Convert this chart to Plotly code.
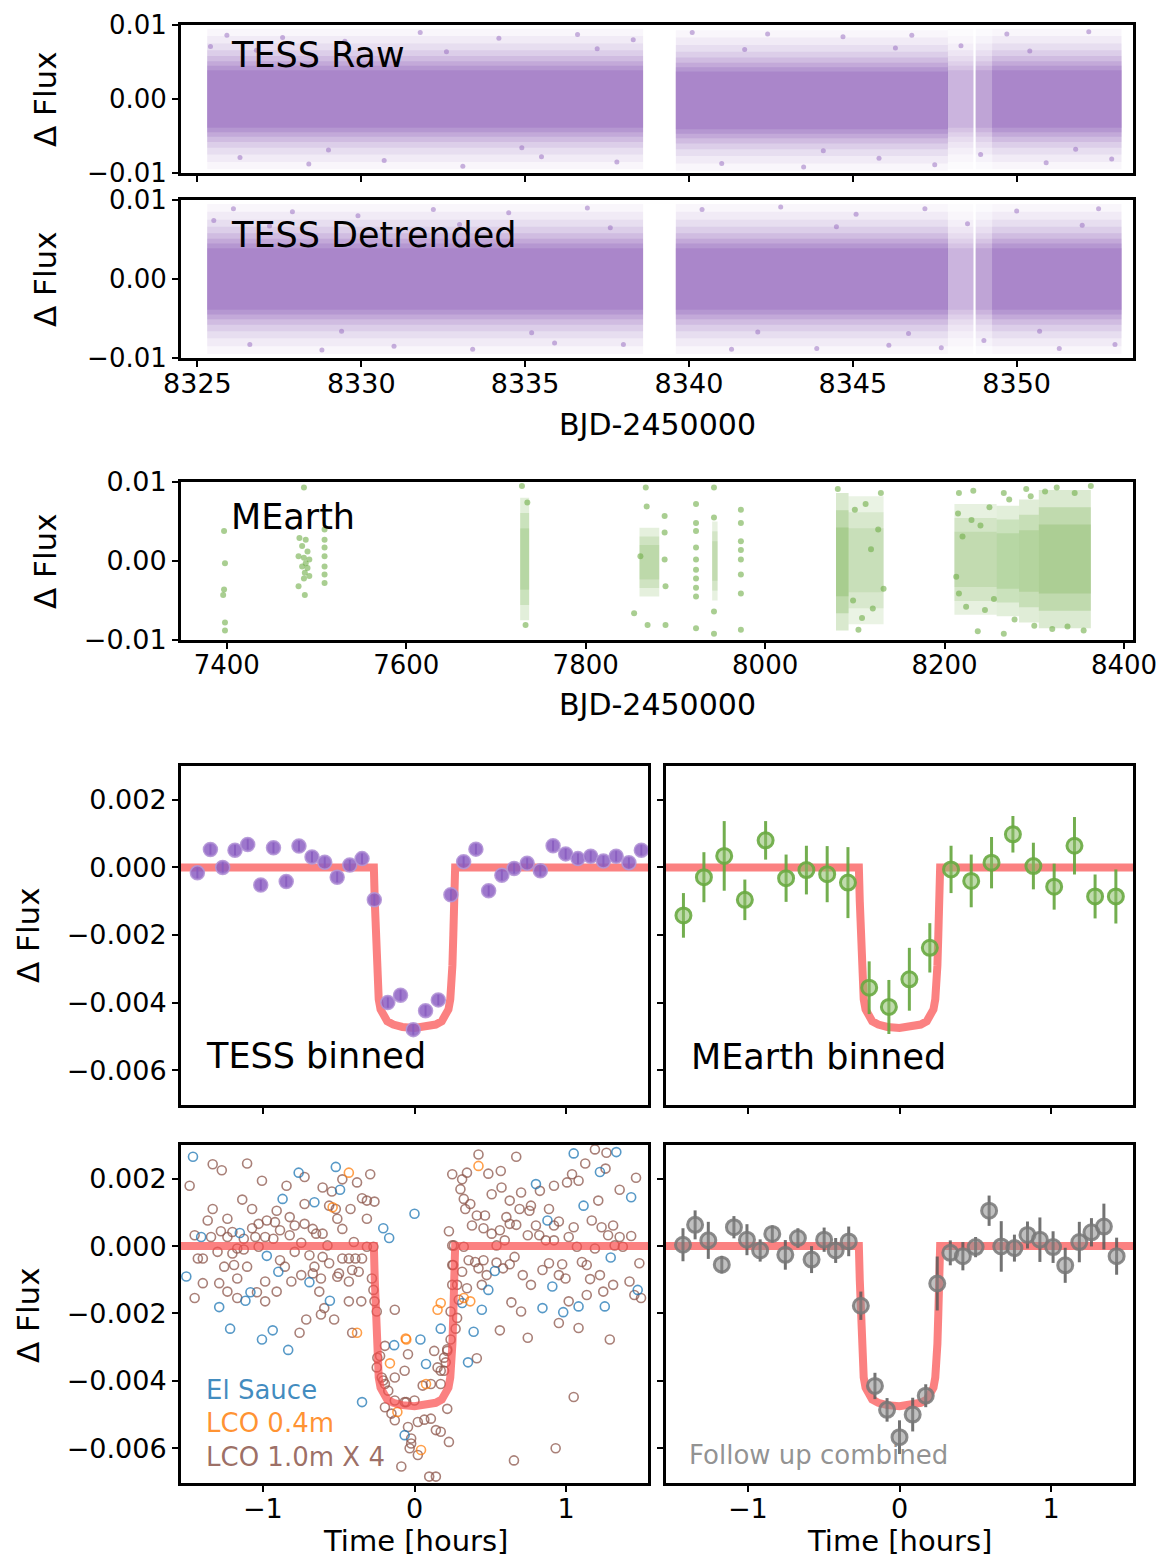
import plotly.graph_objects as go

# reference canvas is 1166x1568; the page body adds an 8px margin, so the
# figure is drawn 16px smaller and every reference pixel position is shifted by 8
REF_W, REF_H = 1166, 1568
OFF = 8
W, H = REF_W - 2 * OFF, REF_H - 2 * OFF
FONT = "DejaVu Sans"

# ============================ DATA ============================
# --- TESS light curve (dense clouds summarised as bands + sparse fringe points)
tess_x_range = [8324.5, 8353.55]
tess_xticks = [8325, 8330, 8335, 8340, 8345, 8350]
tess_xtick_text = ["8325", "8330", "8335", "8340", "8345", "8350"]
tess_yticks = [0.01, 0.0, -0.01]
tess_ytick_text = ["0.01", "0.00", "\u22120.01"]

tess_seg_start = [8325.3, 8339.6, 8347.9, 8348.75, 8349.25]
tess_seg_end = [8338.6, 8347.9, 8348.68, 8349.25, 8353.2]
tess_seg_weight = [1.0, 1.0, 0.45, 0.6, 1.0]
tess_raw_center = [0.0, -0.0002, 0.0, 0.0, 0.0]
tess_det_center = [0.0, 0.0, 0.0, 0.0, 0.0]
tess_level_half = [0.0095, 0.0085, 0.0075, 0.0066, 0.0058, 0.0051, 0.0045, 0.0039]
tess_level_alpha = [0.06, 0.07, 0.10, 0.13, 0.17, 0.22, 0.28, 0.35]

tess_raw_fringe = [(8325.4, 0.0071), (8325.9, 0.0086), (8326.3, -0.0079), (8327.6, 0.0083),
                   (8328.4, -0.0088), (8329.5, 0.0078), (8330.7, -0.0083), (8331.8, 0.0090),
                   (8333.1, -0.0091), (8334.2, 0.0082), (8335.5, -0.0078), (8336.6, 0.0087),
                   (8337.8, -0.0085), (8338.3, 0.0080), (8340.1, 0.0090), (8341.0, -0.0087),
                   (8342.4, 0.0088), (8343.5, -0.0092), (8344.7, 0.0084), (8345.8, -0.0080),
                   (8346.8, 0.0086), (8347.5, -0.0089), (8348.3, 0.0072), (8348.9, -0.0075),
                   (8349.7, 0.0088), (8350.9, -0.0086), (8352.2, 0.0091), (8352.9, -0.0081),
                   (8326.8, 0.0066), (8329.0, -0.0069), (8332.6, 0.0064), (8334.9, -0.0066),
                   (8337.2, 0.0068), (8341.7, 0.0067), (8344.1, -0.0070), (8346.3, 0.0069),
                   (8350.4, 0.0065), (8351.8, -0.0068)]
tess_det_fringe = [(8325.5, 0.0074), (8326.1, 0.0089), (8326.6, -0.0083), (8327.9, 0.0085),
                   (8328.8, -0.0090), (8329.9, 0.0080), (8331.0, -0.0085), (8332.2, 0.0088),
                   (8333.4, -0.0089), (8334.5, 0.0084), (8335.9, -0.0081), (8336.9, 0.0090),
                   (8338.0, -0.0083), (8340.4, 0.0088), (8341.3, -0.0089), (8342.8, 0.0091),
                   (8343.9, -0.0088), (8345.1, 0.0082), (8346.1, -0.0084), (8347.2, 0.0089),
                   (8347.7, -0.0087), (8348.5, 0.0070), (8349.0, -0.0078), (8350.0, 0.0086),
                   (8351.3, -0.0088), (8352.5, 0.0089), (8353.0, -0.0083),
                   (8327.2, 0.0067), (8329.4, -0.0066), (8333.0, 0.0069), (8335.2, -0.0068),
                   (8337.6, 0.0065), (8342.1, -0.0067), (8344.5, 0.0066), (8346.7, -0.0069),
                   (8350.7, -0.0066), (8352.0, 0.0068)]

# --- MEarth light curve
me_x_range = [7349, 8410]
me_xticks = [7400, 7600, 7800, 8000, 8200, 8400]
me_xtick_text = ["7400", "7600", "7800", "8000", "8200", "8400"]
me_blk_x0 = [7727, 7860, 7941, 8079, 8093, 8211, 8258, 8283, 8305]
me_blk_x1 = [7737, 7882, 7947, 8093, 8132, 8258, 8283, 8305, 8363]
me_blk_y0 = [-0.0075, -0.0045, -0.0050, -0.0088, -0.0080, -0.0068, -0.0070, -0.0078, -0.0085]
me_blk_y1 = [0.0080, 0.0042, 0.0050, 0.0086, 0.0082, 0.0072, 0.0070, 0.0078, 0.0090]
me_blk_alpha = [0.60, 0.55, 0.50, 0.80, 0.45, 0.50, 0.60, 0.65, 0.75]
me_level_frac = [1.0, 0.75, 0.5]
me_points = [(7397, 0.0038), (7398, -0.0003), (7397, -0.0036), (7396, -0.0043), (7398, -0.0078),
             (7398, -0.0088), (7486, 0.0093), (7481, 0.0029), (7488, 0.0027), (7484, 0.0019),
             (7490, 0.0012), (7480, 0.0006), (7486, 0.0004), (7492, 0.0002), (7488, -0.0003),
             (7484, -0.0007), (7490, -0.0009), (7487, -0.0015), (7492, -0.0019), (7486, -0.0022),
             (7480, -0.0032), (7487, -0.0043), (7509, 0.0040), (7509, 0.0027), (7509, 0.0017),
             (7509, 0.0006), (7509, -0.0007), (7509, -0.0017), (7509, -0.0028),
             (7729, 0.0095), (7733, -0.0081), (7735, 0.0074),
             (7867, 0.0093), (7868, 0.0069), (7854, -0.0066), (7869, -0.0081), (7888, 0.0057),
             (7888, 0.0036), (7888, 0.0002), (7889, -0.0032), (7889, -0.0081), (7861, 0.0006),
             (7923, 0.0072), (7923, 0.0048), (7923, 0.0038), (7923, 0.0017), (7923, 0.0002),
             (7923, -0.0011), (7923, -0.0022), (7923, -0.0034), (7923, -0.0045), (7923, -0.0085),
             (7943, 0.0093), (7943, 0.0055), (7943, -0.0064), (7943, -0.0092),
             (7973, 0.0065), (7973, 0.0048), (7973, 0.0025), (7973, 0.0014), (7973, 0.0002),
             (7973, -0.0017), (7973, -0.0041), (7973, -0.0087),
             (8081, 0.0091), (8129, 0.0086), (8104, -0.0087), (8216, 0.0086), (8232, 0.0089),
             (8266, 0.0086), (8291, 0.0091), (8325, 0.0093), (8363, 0.0095), (8237, -0.0089),
             (8266, -0.0092), (8337, -0.0083), (8216, -0.0041), (8220, 0.0031),
             (8100, 0.0065), (8112, 0.0072), (8120, -0.0060), (8126, 0.0040), (8108, -0.0072),
             (8132, -0.0035), (8098, -0.0050), (8118, 0.0015), (8215, 0.0060), (8224, -0.0058),
             (8230, 0.0052), (8245, -0.0062), (8250, 0.0068), (8240, 0.0045), (8213, -0.0020),
             (8255, -0.0048), (8272, 0.0078), (8278, -0.0074), (8296, 0.0082), (8300, -0.0082),
             (8312, 0.0088), (8345, 0.0086), (8355, -0.0088), (8320, -0.0086)]

# --- Binned / phase-folded panels (time in hours, flux)
hr_ticks = [-1, 0, 1]
hr_tick_text = ["\u22121", "0", "1"]
bin_yticks = [0.002, 0.0, -0.002, -0.004, -0.006]
bin_ytick_text = ["0.002", "0.000", "\u22120.002", "\u22120.004", "\u22120.006"]

model_t = [-1.6, -0.268, -0.262, -0.256, -0.250, -0.244, -0.236, -0.224, -0.205, -0.180, -0.140,
           -0.080, 0.0, 0.080, 0.140, 0.180, 0.205, 0.224, 0.236, 0.244, 0.250, 0.256, 0.262,
           0.268, 1.6]
model_f = [0.0, 0.0, -0.0010, -0.0020, -0.0029, -0.0035, -0.0039, -0.0042, -0.0044, -0.00455,
           -0.00465, -0.00472, -0.00475, -0.00472, -0.00465, -0.00455, -0.0044, -0.0042, -0.0039,
           -0.0035, -0.0029, -0.0020, -0.0010, 0.0, 0.0]

tess_bin_t = [-1.432, -1.346, -1.265, -1.184, -1.100, -1.014, -0.930, -0.846, -0.762, -0.676,
              -0.592, -0.510, -0.427, -0.346, -0.265, -0.176, -0.092, -0.008, 0.073, 0.157,
              0.240, 0.324, 0.405, 0.489, 0.576, 0.657, 0.743, 0.830, 0.914, 0.997,
              1.078, 1.162, 1.246, 1.330, 1.414, 1.496]
tess_bin_f = [-0.00016, 0.00053, 0.0, 0.00051, 0.00068, -0.00052, 0.00058, -0.00042, 0.00063, 0.00031,
              0.00015, -0.00029, 0.00007, 0.00026, -0.00096, -0.0040, -0.00378, -0.0048, -0.00424, -0.00392,
              -0.00081, 0.00017, 0.00054, -0.00069, -0.00023, -0.00003, 0.00012, -0.0001, 0.00064, 0.0004,
              0.00026, 0.00033, 0.00019, 0.00033, 0.00014, 0.00051]
tess_bin_err = [0.00015] * 36

me_bin_t = [-1.425, -1.290, -1.156, -1.020, -0.883, -0.748, -0.614, -0.477, -0.340, -0.200, -0.070,
            0.065, 0.200, 0.340, 0.473, 0.607, 0.748, 0.883, 1.020, 1.154, 1.290, 1.427]
me_bin_f = [-0.00142, -0.00029, 0.00034, -0.00096, 0.0008, -0.00032, -0.00008, -0.0002, -0.00045,
            -0.00356, -0.00413, -0.00331, -0.00238, -0.00006, -0.0004, 0.00014, 0.00098, 0.00004,
            -0.00057, 0.00064, -0.00086, -0.00086]
me_bin_err = [0.00066, 0.00074, 0.00103, 0.0006, 0.00057, 0.0007, 0.00072, 0.00083, 0.00105,
              0.00078, 0.0008, 0.00093, 0.00073, 0.0007, 0.00078, 0.00076, 0.00054, 0.00069,
              0.00068, 0.00085, 0.00065, 0.0008]

fu_t = [-1.428, -1.348, -1.261, -1.172, -1.092, -1.006, -0.919, -0.839, -0.753, -0.670, -0.580,
        -0.497, -0.421, -0.335, -0.255, -0.162, -0.082, 0.0, 0.087, 0.173, 0.249, 0.335, 0.418,
        0.502, 0.591, 0.671, 0.758, 0.844, 0.926, 1.013, 1.093, 1.186, 1.266, 1.348, 1.432]
fu_f = [0.00004, 0.00063, 0.00017, -0.00055, 0.00056, 0.00019, -0.00013, 0.00036, -0.00026, 0.00024,
        -0.0004, 0.00019, -0.00013, 0.00014, -0.00177, -0.00415, -0.00486, -0.00567, -0.005, -0.00444,
        -0.00111, -0.0002, -0.0003, -0.00003, 0.00105, -0.00001, -0.00006, 0.00033, 0.00019, -0.00003,
        -0.00057, 0.00012, 0.00041, 0.00058, -0.0003]
fu_err = [0.00049, 0.00043, 0.00055, 0.00026, 0.00033, 0.00046, 0.00033, 0.00025, 0.00044, 0.00029,
          0.0004, 0.00036, 0.00037, 0.00044, 0.00042, 0.00039, 0.00035, 0.0005, 0.0005, 0.00034,
          0.0008, 0.00037, 0.00042, 0.0003, 0.00045, 0.00075, 0.0004, 0.0004, 0.00066, 0.00047,
          0.00052, 0.0006, 0.00042, 0.00068, 0.00055]

# ground-based photometry (time [h], flux [ppt])
elsauce_t = [-1.461, -0.764, -0.519, -0.491, -0.870, -0.660, -1.152, -0.206, -0.167, -1.407,
             -0.974, -0.898, -0.693, -1.082, -1.115, -0.558, -1.288, -1.216, -0.935, -1.006,
             -0.833, -0.134, -0.346, -0.065, -1.505,
             1.050, 1.331, 0.801, 1.429, 1.115, 0.0, 0.877, 1.294, 0.530, 0.487,
             1.472, 0.909, 0.444, 0.844, 0.981, 1.082, 1.255, 0.390, 0.314, 0.173,
             0.039, 0.353, 0.076, 1.223]
elsauce_ppt = [2.65, 2.18, 2.35, 1.67, 1.40, 1.30, 0.39, 0.53, 0.24, 0.27,
               -0.29, -0.76, -1.07, -1.37, -1.62, -1.62, -1.81, -2.45, -2.50, -2.77,
               -3.08, -2.94, -4.63, -5.61, -0.90,
               2.75, 2.79, 1.84, 1.45, 1.20, 0.96, 0.76, -0.34, -0.74, -1.30,
               -1.30, -1.20, -1.89, -1.84, -1.96, -1.79, -1.79, -2.54, -1.69, -2.45,
               -2.77, -3.45, -3.50, 2.20]
lco04_t = [-0.433, -0.379, -0.058, -0.162, -0.113, -0.540, 0.422, 0.152, 0.173, 0.325, 0.368,
           -0.054, 0.076, 0.043]
lco04_ppt = [2.18, -2.57, -2.74, -3.48, -4.92, 1.15, 2.38, -1.89, -1.69, -1.54, -1.64,
             -2.77, -4.09, -6.05]
lco1m_points = [
    (-1.331, 2.43), (-1.271, 2.25), (-1.104, 2.45), (-0.725, 2.05), (-0.476, 1.98), (-0.292, 2.13),
    (-1.006, 1.94), (-1.483, 1.79), (-0.844, 1.79), (-0.606, 1.74), (-0.545, 1.62), (-0.379, 1.89),
    (-1.136, 1.38), (-1.331, 1.10), (-1.071, 1.10), (-0.725, 1.25), (-0.563, 1.20), (-0.519, 1.10),
    (-0.422, 1.10), (-0.346, 1.42), (-0.314, 1.35), (-0.264, 1.32), (-0.509, 0.81), (-0.314, 0.81),
    (-1.364, 0.76), (-1.234, 0.81), (-0.974, 0.76), (-0.909, 1.05), (-0.823, 0.86), (-0.790, 0.61),
    (-0.725, 0.66), (-0.671, 0.51), (-1.028, 0.66), (-0.920, 0.71), (-1.071, 0.53), (-1.277, 0.44),
    (-1.201, 0.42), (-0.887, 0.47), (-0.606, 0.37), (-0.476, 0.51), (-0.649, 0.37), (-1.450, 0.32),
    (-1.342, 0.27), (-1.234, 0.27), (-1.126, 0.22), (-1.050, 0.27), (-0.985, 0.27), (-0.931, 0.22),
    (-0.823, 0.32), (-0.747, 0.10), (-0.574, 0.02), (-0.400, 0.12), (-0.314, -0.02), (-0.271, -0.02),
    (-1.028, -0.02), (-1.126, -0.10), (-1.169, -0.07), (-1.429, -0.37), (-1.396, -0.37), (-1.299, -0.17),
    (-1.201, -0.22), (-0.790, -0.17), (-0.693, -0.27), (-0.606, -0.32), (-0.476, -0.37), (-0.433, -0.37),
    (-0.390, -0.37), (-0.346, -0.37), (-1.255, -0.61), (-1.190, -0.56), (-1.104, -0.61), (-0.887, -0.42),
    (-0.855, -0.61), (-0.660, -0.61), (-0.563, -0.51), (-0.498, -0.81), (-0.411, -0.71), (-0.368, -0.76),
    (-0.747, -0.86), (-0.671, -0.81), (-0.617, -0.96), (-0.433, -1.05), (-1.396, -1.10), (-1.288, -1.10),
    (-1.169, -0.96), (-0.985, -1.05), (-0.812, -1.05), (-0.628, -1.35), (-0.509, -0.91), (-1.450, -1.54),
    (-1.234, -1.35), (-1.039, -1.37), (-0.909, -1.35), (-1.169, -1.54), (-0.985, -1.64), (-0.433, -1.64),
    (-0.351, -1.64), (-0.595, -1.84), (-0.530, -2.18), (-0.714, -2.18), (-0.617, -2.03), (-0.130, -1.89),
    (-0.411, -2.57), (-0.758, -2.57), (-0.195, -2.96), (-0.043, -3.21), (-0.227, -3.26), (-0.249, -3.60),
    (-0.065, -3.70), (-0.206, -3.99), (-0.130, -3.90), (-0.195, -4.09), (-0.195, -4.78), (-0.152, -4.97),
    (-0.130, -5.17), (-0.022, -5.86), (-0.087, -6.54), (-0.281, -0.96), (-0.271, -1.30), (-0.264, -1.64),
    (-0.249, -1.94), (-0.245, -3.31), (-0.216, -3.90), (-0.173, -4.29), (-0.130, -4.58), (-0.065, -4.63),
    (0.422, 2.72), (0.671, 2.65), (0.249, 2.13), (0.346, 2.18), (0.487, 2.15), (0.569, 2.23),
    (0.314, 1.98), (0.827, 1.64), (0.920, 1.79), (1.006, 1.89), (1.039, 2.13), (1.082, 1.94),
    (1.126, 2.45), (1.190, 2.87), (1.266, 2.77), (1.260, 2.30), (1.461, 2.03), (1.353, 1.67),
    (0.303, 1.69), (0.325, 1.40), (0.368, 1.25), (0.335, 1.10), (0.509, 1.54), (0.574, 1.74),
    (0.628, 1.35), (0.703, 1.59), (0.768, 1.20), (0.693, 1.10), (0.758, 1.05), (0.887, 1.10),
    (0.411, 0.91), (0.465, 0.91), (0.379, 0.61), (0.455, 0.53), (0.509, 0.37), (0.563, 0.47),
    (0.606, 0.86), (0.628, 0.66), (0.671, 0.63), (0.747, 0.32), (0.801, 0.61), (0.823, 0.32),
    (0.920, 0.61), (0.952, 0.73), (1.017, 0.27), (1.050, 0.56), (1.169, 0.76), (1.212, 1.35),
    (1.234, 0.56), (1.277, 0.32), (1.310, 0.61), (1.353, 0.27), (1.429, 0.30), (0.227, 0.44),
    (0.260, 0.02), (0.325, -0.02), (0.541, 0.02), (0.595, 0.17), (0.866, 0.17), (0.920, 0.17),
    (1.071, -0.02), (1.190, -0.07), (1.320, 0.02), (1.374, -0.02), (0.357, -0.42), (0.400, -0.47),
    (0.455, -0.42), (0.541, -0.49), (0.584, -0.66), (0.628, -0.54), (0.660, -0.32), (0.314, -0.76),
    (0.422, -0.66), (0.714, -0.86), (0.768, -1.15), (0.844, -0.71), (0.887, -0.51), (0.974, -0.54),
    (0.952, -0.86), (0.996, -0.96), (1.104, -0.47), (1.136, -0.56), (1.223, -0.86), (1.310, -1.15),
    (1.418, -1.05), (1.483, -0.51), (1.450, -1.45), (1.494, -1.54), (0.249, -0.56), (0.281, -1.15),
    (0.346, -1.25), (0.444, -1.15), (0.292, -1.59), (0.476, -0.86), (1.158, -0.98), (1.245, -1.35),
    (1.136, -1.45), (0.639, -1.67), (0.703, -1.94), (1.017, -1.64), (0.952, -2.28), (1.082, -2.43),
    (1.288, -2.77), (0.747, -2.72), (0.563, -2.50), (0.281, -2.13), (0.271, -2.45), (0.238, -2.77),
    (0.216, -3.06), (0.195, -3.31), (0.130, -3.11), (0.152, -3.60), (0.173, -3.70), (0.206, -3.45),
    (0.411, -3.33), (0.054, -4.14), (0.108, -4.09), (0.0, -4.58), (0.216, -4.83), (-0.043, -5.37),
    (0.022, -5.22), (0.065, -5.15), (0.108, -5.12), (0.141, -5.46), (0.173, -5.51), (-0.022, -5.71),
    (-0.032, -6.00), (0.022, -6.20), (0.227, -5.81), (1.050, -4.48), (0.931, -6.00), (0.656, -6.36),
    (0.097, -6.84), (0.141, -6.84), (0.249, 0.02), (0.255, -0.56), (0.249, -1.15), (0.238, -1.94),
    (0.216, -3.11), (0.195, -3.70), (0.173, -4.09), (-0.054, -4.63)]

# ============================ LAYOUT HELPERS ============================
def px_x(x):
    return (x - OFF) / W


def px_y(y):
    return 1 - (y - OFF) / H


def xdom(l, r):
    return [px_x(l), px_x(r)]


def ydom(t, b):
    return [px_y(b), px_y(t)]


LEFT_COL = xdom(181, 648)
RIGHT_COL = xdom(666, 1133)
FULL_COL = xdom(181, 1133)

base_axis = dict(showline=True, linewidth=3, linecolor="black", mirror=True,
                 ticks="outside", ticklen=6, tickwidth=1.6, tickcolor="black",
                 showgrid=False, zeroline=False, ticklabeloverflow="allow",
                 tickfont=dict(family=FONT, size=27, color="black"))


def ax(**kw):
    d = dict(base_axis)
    d.update(kw)
    return d


fig = go.Figure()


def add_band(xa, ya, x0, x1, y0, y1, rgba):
    fig.add_trace(go.Scatter(x=[x0, x1, x1, x0, x0], y=[y0, y0, y1, y1, y0],
                             mode="lines", line=dict(width=0), fill="toself",
                             fillcolor=rgba, hoverinfo="skip", xaxis=xa, yaxis=ya))


# ---- TESS panels
for xa, ya, centers, fringe in [("x", "y", tess_raw_center, tess_raw_fringe),
                                ("x2", "y2", tess_det_center, tess_det_fringe)]:
    for i in range(len(tess_seg_start)):
        for half, alpha in zip(tess_level_half, tess_level_alpha):
            a = alpha * tess_seg_weight[i]
            add_band(xa, ya, tess_seg_start[i], tess_seg_end[i],
                     centers[i] - half, centers[i] + half, f"rgba(148,103,189,{a:.3f})")
    fig.add_trace(go.Scatter(x=[p[0] for p in fringe], y=[p[1] for p in fringe], mode="markers",
                             marker=dict(size=5, color="rgba(148,103,189,0.5)"),
                             xaxis=xa, yaxis=ya, hoverinfo="skip"))

# ---- MEarth panel
for x0, x1, y0, y1, a in zip(me_blk_x0, me_blk_x1, me_blk_y0, me_blk_y1, me_blk_alpha):
    mid = 0.5 * (y0 + y1)
    half = 0.5 * (y1 - y0)
    for frac in me_level_frac:
        add_band("x3", "y3", x0, x1, mid - half * frac, mid + half * frac,
                 f"rgba(112,173,71,{a / 3:.3f})")
fig.add_trace(go.Scatter(x=[p[0] for p in me_points], y=[p[1] for p in me_points], mode="markers",
                         marker=dict(size=6, color="rgba(112,173,71,0.6)"),
                         xaxis="x3", yaxis="y3", hoverinfo="skip"))

MODEL_LINE = dict(color="rgba(250,75,75,0.70)", width=8)

# ---- TESS binned
fig.add_trace(go.Scatter(x=model_t, y=model_f, mode="lines", line=MODEL_LINE,
                         xaxis="x4", yaxis="y4", hoverinfo="skip"))
fig.add_trace(go.Scatter(x=tess_bin_t, y=tess_bin_f, mode="markers",
                         error_y=dict(type="data", array=tess_bin_err, color="rgba(120,80,170,0.9)",
                                      thickness=2, width=0),
                         marker=dict(size=14, color="rgba(140,95,195,0.85)",
                                     line=dict(width=1.5, color="rgba(180,150,215,0.9)")),
                         xaxis="x4", yaxis="y4", hoverinfo="skip"))

# ---- MEarth binned
fig.add_trace(go.Scatter(x=model_t, y=model_f, mode="lines", line=MODEL_LINE,
                         xaxis="x5", yaxis="y5", hoverinfo="skip"))
fig.add_trace(go.Scatter(x=me_bin_t, y=me_bin_f, mode="markers",
                         error_y=dict(type="data", array=me_bin_err, color="rgba(100,165,60,0.9)",
                                      thickness=3, width=0),
                         marker=dict(size=15, color="rgba(140,190,105,0.55)",
                                     line=dict(width=3, color="rgba(105,170,65,0.9)")),
                         xaxis="x5", yaxis="y5", hoverinfo="skip"))

# ---- ground-based scatter
fig.add_trace(go.Scatter(x=[p[0] for p in lco1m_points], y=[p[1] * 1e-3 for p in lco1m_points],
                         mode="markers",
                         marker=dict(symbol="circle-open", size=9, color="rgba(140,86,75,0.75)",
                                     line=dict(width=1.6)),
                         xaxis="x6", yaxis="y6", hoverinfo="skip"))
fig.add_trace(go.Scatter(x=elsauce_t, y=[v * 1e-3 for v in elsauce_ppt], mode="markers",
                         marker=dict(symbol="circle-open", size=9, color="rgba(31,119,180,0.75)",
                                     line=dict(width=1.6)),
                         xaxis="x6", yaxis="y6", hoverinfo="skip"))
fig.add_trace(go.Scatter(x=lco04_t, y=[v * 1e-3 for v in lco04_ppt], mode="markers",
                         marker=dict(symbol="circle-open", size=9, color="rgba(255,127,14,0.75)",
                                     line=dict(width=1.6)),
                         xaxis="x6", yaxis="y6", hoverinfo="skip"))
fig.add_trace(go.Scatter(x=model_t, y=model_f, mode="lines", line=MODEL_LINE,
                         xaxis="x6", yaxis="y6", hoverinfo="skip"))

# ---- follow-up combined
fig.add_trace(go.Scatter(x=model_t, y=model_f, mode="lines", line=MODEL_LINE,
                         xaxis="x7", yaxis="y7", hoverinfo="skip"))
fig.add_trace(go.Scatter(x=fu_t, y=fu_f, mode="markers",
                         error_y=dict(type="data", array=fu_err, color="rgba(90,90,90,0.85)",
                                      thickness=3, width=0),
                         marker=dict(size=15, color="rgba(140,140,140,0.55)",
                                     line=dict(width=3, color="rgba(120,120,120,0.85)")),
                         xaxis="x7", yaxis="y7", hoverinfo="skip"))

# ============================ AXES ============================
bin_x_range = [-1.54, 1.54]
bin_y_range = [-0.00703, 0.003]
XSTANDOFF = -6

fig.update_layout(
    xaxis=ax(domain=FULL_COL, anchor="y", range=tess_x_range, tickvals=tess_xticks,
             showticklabels=False),
    yaxis=ax(domain=ydom(25, 173), anchor="x", range=[-0.01, 0.01], tickvals=tess_yticks,
             ticktext=tess_ytick_text, tickfont=dict(family=FONT, size=26, color="black")),
    xaxis2=ax(domain=FULL_COL, anchor="y2", range=tess_x_range, tickvals=tess_xticks,
              ticktext=tess_xtick_text, ticklabelstandoff=XSTANDOFF),
    yaxis2=ax(domain=ydom(200, 358), anchor="x2", range=[-0.01, 0.01], tickvals=tess_yticks,
              ticktext=tess_ytick_text, tickfont=dict(family=FONT, size=26, color="black")),
    xaxis3=ax(domain=FULL_COL, anchor="y3", range=me_x_range, tickvals=me_xticks,
              ticktext=me_xtick_text, ticklabelstandoff=XSTANDOFF,
              tickfont=dict(family=FONT, size=26, color="black")),
    yaxis3=ax(domain=ydom(482, 640), anchor="x3", range=[-0.01, 0.01], tickvals=tess_yticks,
              ticktext=tess_ytick_text),
    xaxis4=ax(domain=LEFT_COL, anchor="y4", range=bin_x_range, tickvals=hr_ticks,
              showticklabels=False),
    yaxis4=ax(domain=ydom(766, 1105), anchor="x4", range=bin_y_range, tickvals=bin_yticks,
              ticktext=bin_ytick_text),
    xaxis5=ax(domain=RIGHT_COL, anchor="y5", range=bin_x_range, tickvals=hr_ticks,
              showticklabels=False),
    yaxis5=ax(domain=ydom(766, 1105), anchor="x5", range=bin_y_range, tickvals=bin_yticks,
              showticklabels=False),
    xaxis6=ax(domain=LEFT_COL, anchor="y6", range=bin_x_range, tickvals=hr_ticks,
              ticktext=hr_tick_text, ticklabelstandoff=XSTANDOFF),
    yaxis6=ax(domain=ydom(1145, 1483), anchor="x6", range=bin_y_range, tickvals=bin_yticks,
              ticktext=bin_ytick_text),
    xaxis7=ax(domain=RIGHT_COL, anchor="y7", range=bin_x_range, tickvals=hr_ticks,
              ticktext=hr_tick_text, ticklabelstandoff=XSTANDOFF),
    yaxis7=ax(domain=ydom(1145, 1483), anchor="x7", range=bin_y_range, tickvals=bin_yticks,
              showticklabels=False),
)

# ============================ TEXT ============================
ann = []


def label(text, xref, yref, x, y, size, color="black", xanchor="left"):
    ann.append(dict(text=text, xref=xref, yref=yref, x=x, y=y, showarrow=False,
                    xanchor=xanchor, yanchor="middle",
                    font=dict(family=FONT, size=size, color=color)))


label("TESS Raw", "x domain", "y domain", 0.05, 0.80, 35)
label("TESS Detrended", "x2 domain", "y2 domain", 0.05, 0.78, 35)
label("MEarth", "x3 domain", "y3 domain", 0.05, 0.78, 35)
label("TESS binned", "x4 domain", "y4 domain", 0.05, 0.145, 35)
label("MEarth binned", "x5 domain", "y5 domain", 0.05, 0.142, 35)
label("Follow up combined", "x7 domain", "y7 domain", 0.045, 0.083, 26,
      color="rgba(128,128,128,0.85)")
label("El Sauce", "x6 domain", "y6 domain", 0.05, 0.275, 26, color="rgba(31,119,180,0.85)")
label("LCO 0.4m", "x6 domain", "y6 domain", 0.05, 0.178, 26, color="rgba(255,127,14,0.85)")
label("LCO 1.0m X 4", "x6 domain", "y6 domain", 0.05, 0.077, 26, color="rgba(140,86,75,0.85)")

for cy, cx in [(99, 45), (279, 45), (561, 45), (935, 28), (1315, 28)]:
    ann.append(dict(text="\u0394 Flux", xref="paper", yref="paper", x=px_x(cx), y=px_y(cy),
                    showarrow=False, textangle=-90, xanchor="center", yanchor="middle",
                    font=dict(family=FONT, size=31, color="black")))
for cx, cy, txt in [(657, 425, "BJD-2450000"), (657, 705, "BJD-2450000")]:
    ann.append(dict(text=txt, xref="paper", yref="paper", x=px_x(cx), y=px_y(cy),
                    showarrow=False, xanchor="center", yanchor="middle",
                    font=dict(family=FONT, size=30, color="black")))
for cx in [415, 899]:
    ann.append(dict(text="Time [hours]", xref="paper", yref="paper", x=px_x(cx), y=0.0,
                    showarrow=False, xanchor="center", yanchor="bottom",
                    font=dict(family=FONT, size=29, color="black")))

fig.update_layout(annotations=ann, width=W, height=H, showlegend=False,
                  margin=dict(l=0, r=0, t=0, b=0, autoexpand=False),
                  paper_bgcolor="white", plot_bgcolor="white",
                  font=dict(family=FONT, color="black"))

fig.write_html("out.html")
